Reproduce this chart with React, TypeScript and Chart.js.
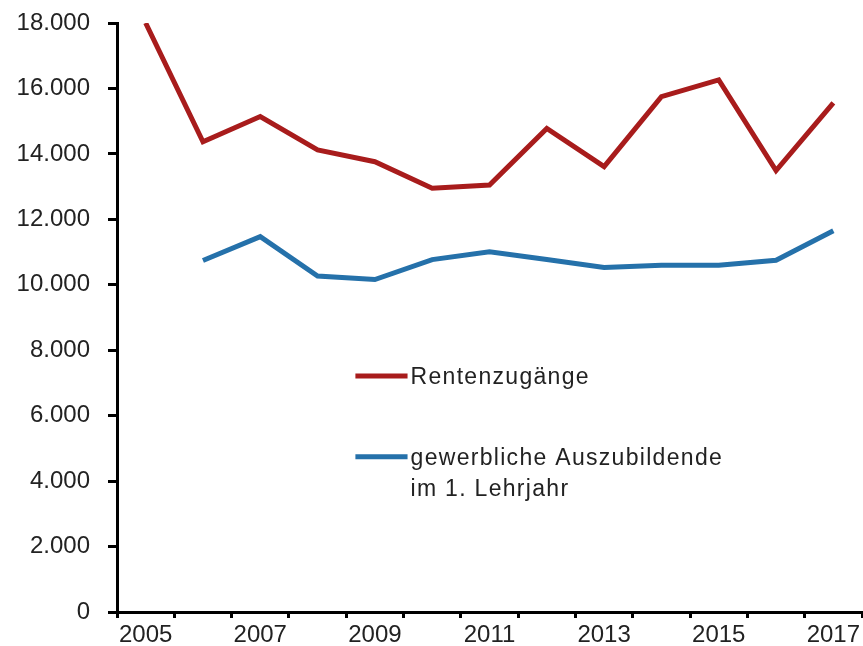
import React, { useEffect, useRef } from "react";
import { Chart, registerables } from "chart.js";

Chart.register(...registerables);

const years = ["2005", "2006", "2007", "2008", "2009", "2010", "2011", "2012", "2013", "2014", "2015", "2016", "2017"];
const rentenzugaenge = [18000, 14370, 15140, 14120, 13760, 12950, 13050, 14780, 13610, 15750, 16260, 13490, 15560];
const auszubildende = [null, 10740, 11470, 10270, 10160, 10770, 11010, 10770, 10530, 10600, 10600, 10750, 11650];
const seriesNames = ["Rentenzugänge", "gewerbliche Auszubildende\nim 1. Lehrjahr"];
const yTicks = [0, 2000, 4000, 6000, 8000, 10000, 12000, 14000, 16000, 18000];

const RED = "#A81C1C";
const BLUE = "#2571AA";
const TEXT = "#222222";
const FONT = "'Liberation Sans', Arial, sans-serif";

const fmt = (v: number) => v.toLocaleString("de-DE");

const innerLegend = {
  id: "innerLegend",
  afterDraw(chart: any) {
    const { ctx, chartArea } = chart;
    const w = chartArea.right - chartArea.left;
    const h = chartArea.bottom - chartArea.top;
    const lx0 = chartArea.left + w * 0.32;
    const lx1 = chartArea.left + w * 0.39;
    const tx = lx1 + 3;
    const rows = [
      { y: chartArea.top + h * 0.5995, color: RED, text: seriesNames[0] },
      { y: chartArea.top + h * 0.7365, color: BLUE, text: seriesNames[1] },
    ];
    ctx.save();
    ctx.font = `23px ${FONT}`;
    (ctx as any).letterSpacing = "1.3px";
    ctx.fillStyle = TEXT;
    ctx.textBaseline = "middle";
    ctx.textAlign = "left";
    rows.forEach((r) => {
      ctx.strokeStyle = r.color;
      ctx.lineWidth = 5;
      ctx.beginPath();
      ctx.moveTo(lx0, r.y);
      ctx.lineTo(lx1, r.y);
      ctx.stroke();
      r.text.split("\n").forEach((line, i) => {
        ctx.fillText(line, tx, r.y + 2 + i * 31);
      });
    });
    ctx.restore();
  },
};

export default function App() {
  const ref = useRef<HTMLCanvasElement | null>(null);
  useEffect(() => {
    document.body.style.margin = "0";
    const canvas = ref.current!;
    const chart = new Chart(canvas, {
      type: "line",
      data: {
        labels: years,
        datasets: [
          {
            label: "Rentenzugänge",
            data: rentenzugaenge,
            borderColor: RED,
            backgroundColor: RED,
            borderWidth: 5,
            pointRadius: 0,
            tension: 0,
          },
          {
            label: "gewerbliche Auszubildende im 1. Lehrjahr",
            data: auszubildende as any,
            borderColor: BLUE,
            backgroundColor: BLUE,
            borderWidth: 5,
            pointRadius: 0,
            tension: 0,
          },
        ],
      },
      options: {
        responsive: false,
        animation: false,
        layout: { padding: { top: 23, right: 1, left: 0, bottom: 0 } },
        plugins: { legend: { display: false }, tooltip: { enabled: false } },
        scales: {
          x: {
            type: "category",
            offset: true,
            border: { display: true, color: "#000", width: 3 },
            grid: {
              offset: true,
              drawOnChartArea: false,
              drawTicks: true,
              tickLength: 6,
              tickWidth: 3,
              tickColor: "#000",
            },
            ticks: {
              autoSkip: false,
              maxRotation: 0,
              minRotation: 0,
              padding: 3,
              color: TEXT,
              font: { family: FONT, size: 24 },
              callback: (_v: any, i: number) => (i % 2 === 0 ? years[i] : ""),
            },
            afterFit: (s: any) => {
              s.height = 34;
              s.paddingLeft = 0;
              s.paddingRight = 0;
            },
          },
          y: {
            min: 0,
            max: 18000,
            border: { display: true, color: "#000", width: 3 },
            grid: {
              drawOnChartArea: false,
              drawTicks: true,
              tickLength: 9,
              tickWidth: 3,
              tickColor: "#000",
            },
            afterBuildTicks: (s: any) => {
              s.ticks = yTicks.map((v) => ({ value: v }));
            },
            ticks: {
              padding: 18,
              color: TEXT,
              font: { family: FONT, size: 24 },
              callback: (v: any) => fmt(Number(v)),
            },
            afterFit: (s: any) => {
              s.width = 117;
              s.paddingTop = 0;
              s.paddingBottom = 0;
            },
          },
        },
      },
      plugins: [innerLegend],
    });
    return () => chart.destroy();
  }, []);
  return <canvas ref={ref} width={863} height={646} style={{ display: "block" }} />;
}
